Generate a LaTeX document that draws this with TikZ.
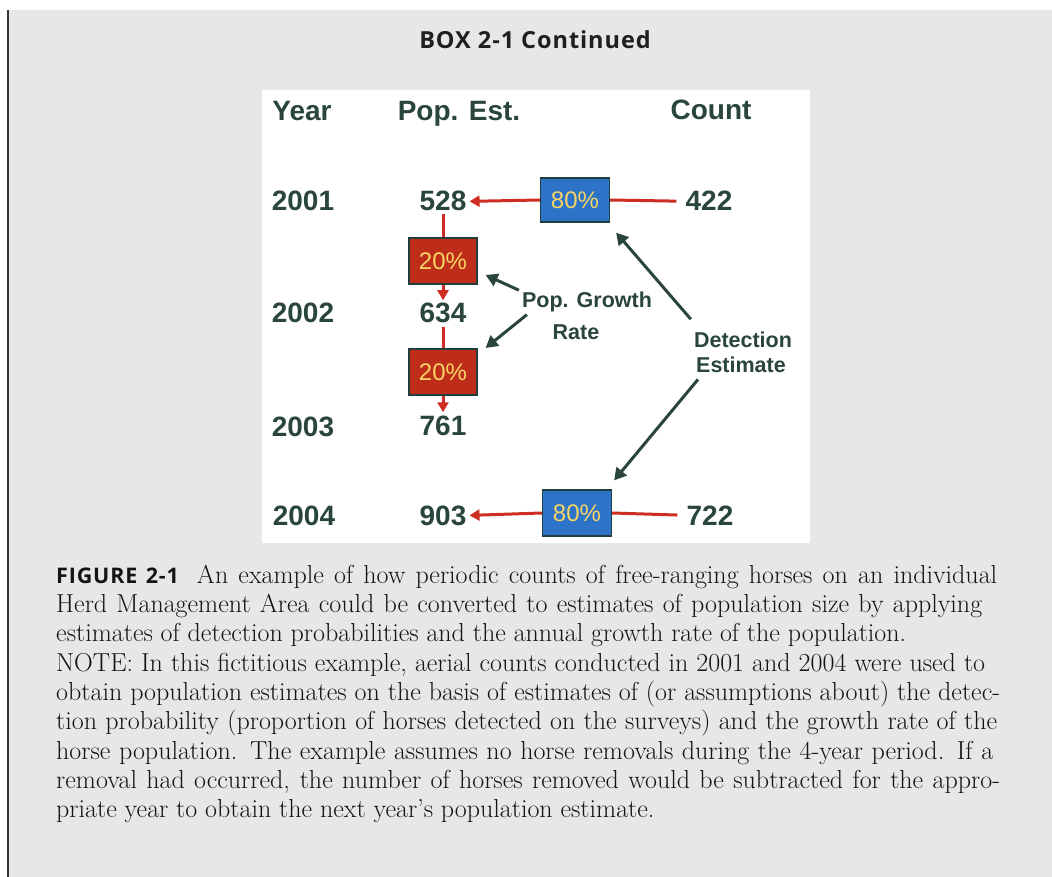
\documentclass[tikz,border=0pt]{standalone}
\usepackage{fontspec}
\newfontfamily\chartfont{Liberation Sans}
\newfontfamily\boxfont{Open Sans}[LetterSpace=4]
\usetikzlibrary{arrows.meta,calc}
\definecolor{bg}{RGB}{230,231,233}
\definecolor{ink}{RGB}{42,70,58}
\definecolor{redline}{RGB}{205,45,35}
\definecolor{bluefill}{RGB}{45,115,200}
\definecolor{redfill}{RGB}{190,45,25}
\definecolor{boxedge}{RGB}{35,60,60}
\definecolor{pctyellow}{RGB}{248,212,100}
\begin{document}
\begin{tikzpicture}[x=1pt,y=-1pt,
  lbl/.style={font=\chartfont\bfseries\fontsize{28}{30}\selectfont, text=ink, inner sep=3pt, anchor=base},
  slbl/.style={font=\chartfont\bfseries\fontsize{21.5}{24}\selectfont, text=ink, inner sep=0pt, anchor=base},
  pctbox/.style={draw=boxedge, line width=1.2pt, text=pctyellow, font=\chartfont\fontsize{24}{26}\selectfont, inner sep=0pt},
  bluebox/.style={pctbox, fill=bluefill, minimum width=69pt, minimum height=44pt},
  redbox/.style={pctbox, fill=redfill, minimum width=68pt, minimum height=46pt},
  rline/.style={draw=redline, line width=3pt},
  rarrow/.style={rline, -{Triangle[length=10pt,width=11pt]}},
  darrow/.style={draw=ink, line width=3pt, -{Triangle[length=12pt,width=13pt]}},
  capline/.style={anchor=base west, inner sep=0pt, font=\fontsize{26}{29}\selectfont, text=black!92}
]
\useasboundingbox (0,0) rectangle (1052,877);
\fill[white] (0,0) rectangle (1052,877);
\fill[bg] (8,10) rectangle (1052,877);
\draw[line width=1.5pt, black!80] (8,10) -- (8,877);
\fill[white] (262,90) rectangle (810,543);

\node[font=\boxfont\bfseries\fontsize{23.5}{28}\selectfont, text=black!88, anchor=base, inner sep=0pt] (hdr) at (535,49) {BOX 2-1 Continued};

% headers
\node[lbl] (hyear) at (302,121) {Year};
\node[lbl] (hpop) at (459,121) {Pop. Est.};
\node[lbl] (hcount) at (711,120) {Count};

% years
\node[lbl] (y1) at (303,211) {2001};
\node[lbl] (y2) at (303,323) {2002};
\node[lbl] (y3) at (303,436) {2003};
\node[lbl] (y4) at (304,525) {2004};

% population estimates
\node[lbl] (p1) at (443,211) {528};
\node[lbl] (p2) at (443,323) {634};
\node[lbl] (p3) at (443,435) {761};
\node[lbl] (p4) at (443,525) {903};

% counts
\node[lbl] (c1) at (709,211) {422};
\node[lbl] (c4) at (710,525) {722};

% boxes
\node[bluebox] (b1) at (575,200) {80\%};
\node[bluebox, minimum height=46pt] (b4) at (577,513) {80\%};
\node[redbox] (r1) at (443,261) {20\%};
\node[redbox] (r2) at (443,372) {20\%};

% labels
\node[slbl] (pg) at (587,308) {Pop. Growth};
\node[slbl] (rate) at (576,339) {Rate};
\node[slbl] (det) at (743,347) {Detection};
\node[slbl] (est) at (741,372) {Estimate};

% red connectors
\draw[rline, shorten <=6pt] (c1.west) -- (b1.east);
\draw[rarrow] (b1.west) -- (p1.east);
\draw[rline, shorten <=6pt] (c4.west) -- (b4.east);
\draw[rarrow] (b4.west) -- (p4.east);
\draw[rline] (p1.south) -- (r1.north);
\draw[rarrow] (r1.south) -- (p2.north);
\draw[rline] (p2.south) -- (r2.north);
\draw[rarrow] (r2.south) -- (p3.north);

% dark arrows
\draw[darrow] ([shift={(-3,-2)}]pg.north west) -- ([shift={(8,14)}]r1.east);
\draw[darrow] ([shift={(5,2)}]pg.south west) -- ([shift={(8,-24)}]r2.east);
\draw[darrow] ([shift={(-3,-12)}]det.north west) -- ([shift={(6,10)}]b1.south east);
\draw[darrow] ([shift={(2,7)}]est.south west) -- ([shift={(2,-9)}]b4.north east);

% caption
\node[capline] (l1) at (56,583) {\makebox[941pt][s]{{\boxfont\bfseries\fontsize{21.5}{26}\selectfont FIGURE 2-1}\hspace{0.3em} An example of how periodic counts of free-ranging horses on an individual}};
\node[capline] (l2) at (56,612) {\makebox[926pt][s]{Herd Management Area could be converted to estimates of population size by applying}};
\node[capline] (l3) at (56,641) {estimates of detection probabilities and the annual growth rate of the population.};
\node[capline] (l4) at (56,671) {\makebox[929pt][s]{NOTE: In this fictitious example, aerial counts conducted in 2001 and 2004 were used to}};
\node[capline] (l5) at (56,700) {\makebox[944pt][s]{obtain population estimates on the basis of estimates of (or assumptions about) the detec-}};
\node[capline] (l6) at (56,729) {\makebox[941pt][s]{tion probability (proportion of horses detected on the surveys) and the growth rate of the}};
\node[capline] (l7) at (56,759) {\makebox[937pt][s]{horse population. The example assumes no horse removals during the 4-year period. If a}};
\node[capline] (l8) at (56,788) {\makebox[944pt][s]{removal had occurred, the number of horses removed would be subtracted for the appro-}};
\node[capline] (l9) at (56,817) {priate year to obtain the next year’s population estimate.};
\end{tikzpicture}
\end{document}
